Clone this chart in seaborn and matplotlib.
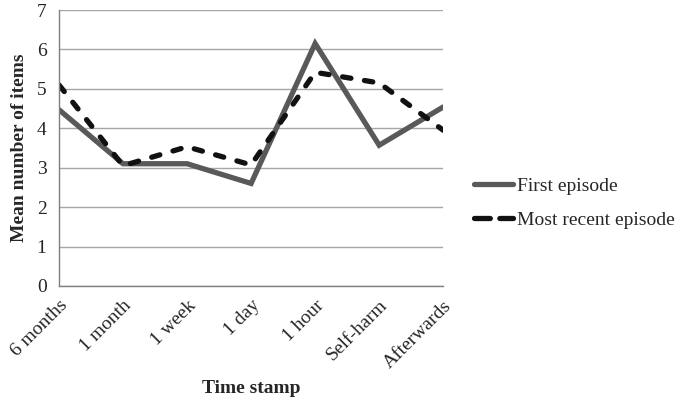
import pandas as pd
import seaborn as sns
import matplotlib.pyplot as plt

# data
stamps = ['6 months', '1 month', '1 week', '1 day', '1 hour', 'Self-harm', 'Afterwards']
first_episode = [4.47, 3.1, 3.1, 2.6, 6.15, 3.57, 4.54]
recent_episode = [5.1, 3.05, 3.53, 3.07, 5.42, 5.15, 3.95]
series_names = ['First episode', 'Most recent episode']

df = pd.DataFrame({
    'Time stamp': stamps * 2,
    'Mean': first_episode + recent_episode,
    'Series': [series_names[0]] * len(stamps) + [series_names[1]] * len(stamps),
})
df['x'] = list(range(len(stamps))) * 2

sns.set_style('white')
plt.rcParams['font.family'] = ['Liberation Serif', 'DejaVu Serif']

fig = plt.figure(figsize=(6.83, 4.01), dpi=100)
ax = fig.add_axes([0.0864, 0.287, 0.5625, 0.688])

sns.lineplot(data=df, x='x', y='Mean', hue='Series', style='Series',
             palette=['#595959', '#111111'],
             dashes={series_names[0]: '', series_names[1]: (1.6, 2.6)},
             linewidth=3.8, ax=ax)
for ln in ax.get_lines():
    ln.set_dash_capstyle('round')
    ln.set_solid_joinstyle('miter')

ax.set_xlim(0, len(stamps) - 1)
ax.set_ylim(0, 7)
ax.set_yticks(range(0, 8))
ax.set_xticks(range(len(stamps)))
ax.set_xticklabels(stamps, rotation=45, ha='right', rotation_mode='anchor', fontsize=14)
ax.tick_params(axis='y', labelsize=14, length=5, color='#7f7f7f', direction='out', pad=4)
ax.tick_params(axis='x', length=5, color='#7f7f7f', direction='out', pad=3)
ax.yaxis.grid(True, color='#a6a6a6', linewidth=1)
ax.set_axisbelow(True)
for s in ['top', 'right']:
    ax.spines[s].set_visible(False)
for s in ['left', 'bottom']:
    ax.spines[s].set_color('#7f7f7f')
    ax.spines[s].set_linewidth(1)

ax.set_xlabel('Time stamp', fontsize=14, fontweight='bold', labelpad=6)
ax.set_ylabel('Mean number of items', fontsize=14, fontweight='bold', labelpad=6)

leg = ax.legend(loc='center left', bbox_to_anchor=(1.08, 0.3), frameon=False,
                borderpad=0, borderaxespad=0,
                fontsize=14, handlelength=2.0, handletextpad=0.2, labelspacing=0.85)
for h in leg.get_lines():
    h.set_linewidth(3.8)
    h.set_dash_capstyle('round')
    if h.get_label() == series_names[1]:
        h.set_dashes((3.0, 1.8))

fig.savefig('out.png', dpi=100)
plt.close(fig)
